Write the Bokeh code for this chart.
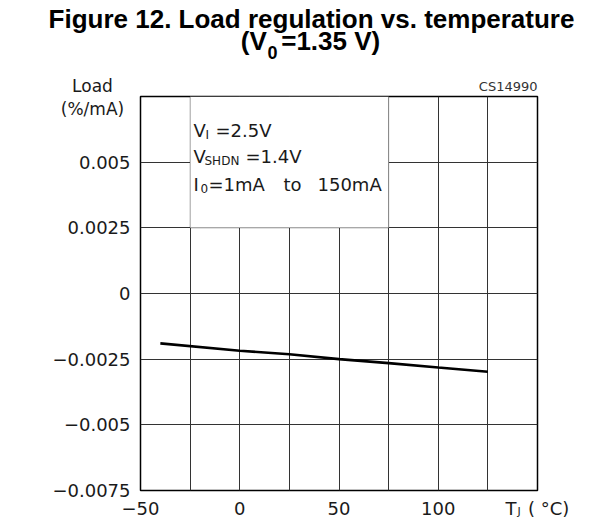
from bokeh.plotting import figure
from bokeh.models import Range1d, FixedTicker, Label, BoxAnnotation
from bokeh.embed import file_html
from bokeh.resources import INLINE

# ---- data ----
temp_c = [-40, 0, 25, 50, 75, 100, 125]
load_reg = [-0.0019, -0.00218, -0.00231, -0.0025, -0.00265, -0.00282, -0.00298]

x_ticks = [-50, 0, 50, 100, 150]
x_minor = [-25, 25, 75, 125]
x_tick_labels = ["\u221250", "0", "50", "100", "T\u00a0\u00a0( \u00b0C)"]
y_ticks = [-0.0075, -0.005, -0.0025, 0.0, 0.0025, 0.005]
y_tick_labels = ["\u22120.0075", "\u22120.005", "\u22120.0025", "0", "0.0025", "0.005"]

W, H = 608, 521
FONT = "DejaVu Sans"
GRID = "#333333"

p = figure(width=W, height=H, output_backend="svg", toolbar_location=None,
           x_range=Range1d(-50, 150), y_range=Range1d(-0.0075, 0.0075),
           min_border_left=140, min_border_right=71, min_border_top=96, min_border_bottom=30)
p.background_fill_color = "white"
p.border_fill_color = "white"
p.outline_line_color = "black"
p.outline_line_width = 1.5

p.xaxis.ticker = FixedTicker(ticks=x_ticks, minor_ticks=x_minor)
p.yaxis.ticker = FixedTicker(ticks=y_ticks)
p.xaxis.major_label_overrides = dict(zip(x_ticks, x_tick_labels))
p.yaxis.major_label_overrides = dict(zip(y_ticks, y_tick_labels))
for ax in (p.xaxis, p.yaxis):
    ax.axis_line_color = None
    ax.major_tick_line_color = None
    ax.minor_tick_line_color = None
    ax.major_tick_out = 0
    ax.major_tick_in = 0
    ax.minor_tick_out = 0
    ax.minor_tick_in = 0
    ax.major_label_text_font = FONT
    ax.major_label_text_font_size = "18px"
    ax.major_label_text_color = "#1a1a1a"
p.xaxis.major_label_standoff = 7
p.yaxis.major_label_standoff = 10

p.xgrid.grid_line_color = GRID
p.xgrid.grid_line_width = 1
p.xgrid.minor_grid_line_color = GRID
p.xgrid.minor_grid_line_width = 1
p.ygrid.grid_line_color = GRID
p.ygrid.grid_line_width = 1

# blank region holding the conditions text
p.add_layout(BoxAnnotation(left=-25, right=75, bottom=0.0025, top=0.0075,
                           fill_color="white", fill_alpha=1.0,
                           line_color=GRID, line_width=1.2))

p.line(temp_c, load_reg, line_color="black", line_width=2.6)


def lab(text, x, y, size, font=FONT, align="left", bold=False, color="#1a1a1a", side=None):
    lb = Label(x=x, y=y, x_units="canvas", y_units="canvas", text=text,
               text_font=font, text_font_size=f"{size}px", text_align=align,
               text_baseline="middle", text_color=color,
               text_font_style="bold" if bold else "normal")
    if side is None:
        p.add_layout(lb)
    else:
        p.add_layout(lb, side)


# title (outside the frame)
lab("Figure 12. Load regulation vs. temperature", 311, 18, 26,
    font="Liberation Sans", align="center", bold=True, color="black", side="above")
lab("(V\u00a0\u00a0=1.35 V)", 310, 40, 26,
    font="Liberation Sans", align="center", bold=True, color="black", side="above")
lab("0", 267, 52, 18, font="Liberation Sans", bold=True, color="black", side="right")

# axis titles
lab("(%/mA)", 92, 108, 17, align="center", side="above")
lab("Load", 92, 85, 17, align="center", side="left")
lab("J", 517, 511, 11, side="left")
lab("CS14990", 537, 86, 13, align="right", color="#333333", side="right")

# conditions (inside the frame)
lab("V", 193, 130, 18)
lab("I", 205, 134, 12)
lab("=2.5V", 215, 130, 18)
lab("V", 193, 156, 18)
lab("SHDN", 204, 160, 12)
lab("=1.4V", 245, 156, 18)
lab("I", 193, 184, 18)
lab("0", 200, 188, 12)
lab("=1mA", 208, 184, 18)
lab("to", 283, 184, 18)
lab("150mA", 317, 184, 18)

open("out.html", "w").write(file_html(p, INLINE))
